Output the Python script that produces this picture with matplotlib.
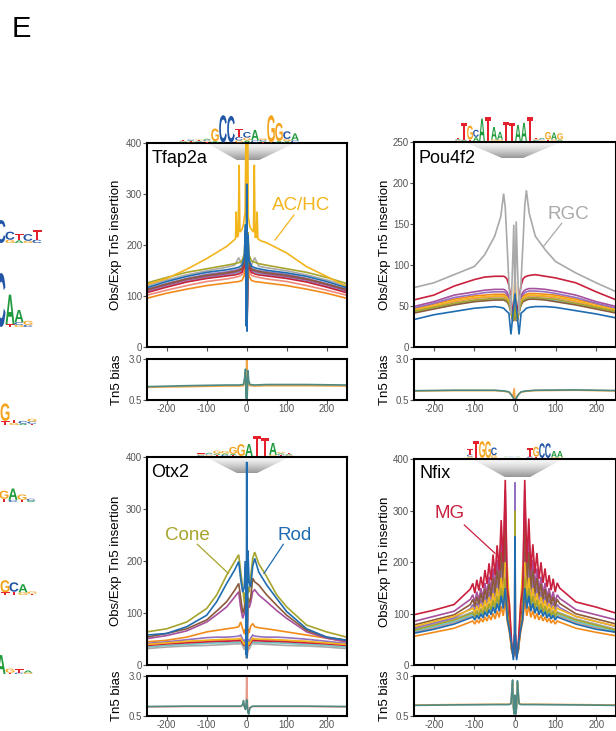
import numpy as np
import matplotlib
matplotlib.use('Agg')
import matplotlib.pyplot as plt
from matplotlib.textpath import TextPath
from matplotlib.path import Path
from matplotlib.patches import PathPatch
from matplotlib.font_manager import FontProperties

plt.rcParams['font.family'] = ['Liberation Sans', 'DejaVu Sans']
plt.rcParams['axes.unicode_minus'] = False

# ---------------- data ----------------
CELL_TYPES = ['Rod', 'Cone', 'BC', 'MG', 'AC/HC', 'RGC', 'Astrocyte',
              'Microglia', 'RPE', 'Endothelial', 'Pericyte']
COLORS = {'Rod': '#1f6cb0', 'Cone': '#a6a42c', 'BC': '#8b5a3b', 'MG': '#c9203d',
          'AC/HC': '#f2b51c', 'RGC': '#a9a9a9', 'Astrocyte': '#f28b1a',
          'Microglia': '#a6509e', 'RPE': '#9470c0', 'Endothelial': '#6cc6c6',
          'Pericyte': '#ee8a78'}

# Tfap2a
TF_X = [-250, -200, -150, -100, -50, -30, -20, -12, -6, -3, -1, 0, 1, 3, 6, 12, 20, 30, 50, 100, 150, 200, 250]
TF_ACHC_X = [-250, -200, -150, -100, -50, -35, -28, -26, -24, -21, -19, -17, -12, -8, -4, -2, 0,
             2, 4, 8, 12, 17, 19, 21, 24, 26, 28, 35, 50, 100, 150, 200, 250]
TFAP2A = {
    'Rod':         [116, 128, 138, 146, 151, 154, 156, 160, 175, 240, 40, 320, 30, 220, 170, 158, 155, 153, 150, 145, 138, 128, 116],
    'Cone':        [125, 136, 146, 153, 160, 163, 165, 168, 182, 230, 95, 205, 90, 225, 180, 168, 166, 163, 160, 153, 146, 136, 124],
    'BC':          [112, 123, 133, 140, 145, 148, 150, 153, 165, 200, 60, 170, 55, 195, 162, 152, 150, 148, 145, 140, 133, 123, 112],
    'MG':          [106, 117, 127, 134, 139, 141, 143, 146, 158, 190, 55, 150, 50, 185, 155, 146, 143, 141, 139, 134, 127, 117, 106],
    'AC/HC':       [122, 134, 152, 173, 197, 207, 212, 265, 215, 218, 357, 225, 230, 240, 265, 410, 90,
                    410, 255, 235, 230, 225, 357, 215, 215, 265, 212, 208, 204, 184, 157, 138, 118],
    'RGC':         [120, 131, 141, 149, 156, 160, 175, 160, 172, 200, 80, 150, 70, 190, 168, 160, 175, 158, 155, 149, 141, 131, 120],
    'Astrocyte':   [95, 105, 113, 120, 125, 127, 128, 130, 140, 170, 50, 140, 45, 165, 138, 130, 128, 127, 125, 120, 113, 105, 95],
    'Microglia':   [110, 121, 131, 138, 143, 146, 148, 151, 162, 195, 60, 160, 55, 190, 160, 150, 148, 146, 143, 138, 131, 121, 110],
    'RPE':         [113, 124, 134, 142, 147, 150, 152, 155, 168, 205, 65, 175, 60, 200, 165, 154, 151, 149, 147, 142, 134, 124, 113],
    'Endothelial': [108, 118, 128, 136, 141, 144, 146, 149, 160, 185, 60, 150, 55, 180, 158, 148, 146, 144, 141, 136, 128, 118, 108],
    'Pericyte':    [101, 111, 120, 128, 133, 136, 138, 141, 150, 180, 55, 145, 50, 175, 150, 140, 138, 136, 133, 128, 120, 111, 101],
}

# Pou4f2
PO_X = [-250, -200, -150, -100, -75, -50, -35, -28, -24, -20, -15, -10, -6, -3, 0, 3, 6, 10, 15, 20, 24, 28, 35, 50, 75, 100, 150, 200, 250]
POU4F2 = {
    'RGC':         [72, 78, 88, 98, 112, 135, 159, 187, 170, 130, 78, 40, 100, 149, 50, 153, 100, 40, 80, 130, 172, 191, 163, 135, 118, 104, 90, 78, 67],
    'MG':          [57, 63, 74, 82, 85, 86, 86, 86, 85, 83, 75, 60, 45, 40, 55, 40, 45, 60, 75, 83, 85, 86, 87, 88, 86, 84, 78, 67, 57],
    'Microglia':   [49, 55, 63, 67, 69, 70, 70, 70, 69, 67, 62, 50, 40, 35, 60, 35, 40, 50, 62, 67, 69, 70, 71, 71, 70, 68, 63, 55, 49],
    'RPE':         [47, 53, 60, 64, 66, 67, 67, 67, 66, 64, 60, 48, 38, 33, 58, 33, 38, 48, 60, 64, 66, 67, 68, 68, 67, 65, 60, 53, 47],
    'Astrocyte':   [46, 52, 58, 62, 63, 64, 64, 64, 63, 62, 58, 47, 38, 40, 90, 40, 38, 47, 58, 62, 63, 64, 65, 65, 64, 63, 58, 52, 46],
    'AC/HC':       [45, 50, 56, 60, 61, 62, 62, 62, 61, 60, 56, 46, 36, 38, 85, 38, 36, 46, 56, 60, 61, 62, 63, 63, 62, 61, 56, 50, 45],
    'Pericyte':    [44, 49, 55, 59, 60, 61, 61, 61, 60, 59, 55, 45, 35, 35, 58, 35, 35, 45, 55, 59, 60, 61, 62, 62, 61, 60, 55, 49, 44],
    'Cone':        [43, 48, 53, 57, 58, 59, 59, 59, 58, 57, 53, 44, 34, 33, 55, 33, 34, 44, 53, 57, 58, 59, 60, 60, 59, 58, 53, 48, 43],
    'Endothelial': [42, 47, 52, 56, 57, 58, 58, 58, 57, 56, 52, 43, 33, 33, 53, 33, 33, 43, 52, 56, 57, 58, 59, 59, 58, 56, 52, 47, 42],
    'BC':          [41, 46, 51, 55, 56, 57, 57, 57, 56, 55, 51, 42, 32, 32, 52, 32, 32, 42, 51, 55, 56, 57, 58, 58, 57, 55, 51, 46, 41],
    'Rod':         [33, 39, 43, 47, 48, 49, 48, 47, 45, 43, 41, 15, 35, 50, 65, 50, 35, 15, 41, 43, 45, 47, 48, 49, 49, 48, 44, 40, 35],
}

# Otx2
OT_X = [-250, -200, -150, -100, -75, -50, -30, -20, -15, -10, -6, -3, -1, 0, 1, 3, 6, 10, 15, 20, 30, 50, 75, 100, 150, 200, 250]
OTX2 = {
    'Cone':        [64, 70, 83, 109, 135, 173, 199, 212, 180, 150, 120, 140, 60, 200, 60, 150, 140, 170, 205, 217, 195, 170, 135, 112, 77, 64, 54],
    'Rod':         [58, 61, 74, 96, 122, 157, 183, 199, 165, 140, 150, 200, 20, 390, 15, 220, 160, 150, 190, 205, 179, 154, 128, 103, 70, 54, 48],
    'BC':          [54, 61, 70, 87, 104, 122, 144, 157, 130, 100, 110, 130, 40, 160, 40, 130, 120, 130, 167, 160, 154, 135, 115, 96, 67, 54, 48],
    'Microglia':   [51, 57, 66, 83, 97, 112, 131, 141, 110, 90, 100, 120, 40, 150, 40, 125, 110, 120, 141, 145, 135, 122, 105, 90, 64, 52, 45],
    'Astrocyte':   [45, 48, 54, 64, 67, 70, 72, 74, 83, 70, 60, 70, 30, 80, 30, 70, 62, 75, 80, 74, 72, 70, 67, 64, 58, 52, 45],
    'RPE':         [42, 45, 49, 53, 54, 54, 55, 56, 58, 50, 45, 50, 25, 60, 25, 50, 45, 52, 58, 56, 55, 54, 54, 53, 50, 46, 42],
    'AC/HC':       [40, 43, 46, 48, 49, 50, 50, 51, 52, 45, 40, 45, 20, 55, 20, 45, 40, 46, 52, 51, 50, 50, 49, 48, 46, 43, 40],
    'Pericyte':    [40, 42, 45, 47, 48, 48, 49, 49, 50, 45, 40, 45, 20, 50, 20, 45, 40, 45, 50, 49, 49, 48, 48, 47, 45, 42, 40],
    'MG':          [38, 41, 43, 45, 46, 46, 47, 47, 48, 42, 38, 42, 20, 50, 20, 42, 38, 43, 48, 47, 47, 46, 46, 45, 43, 41, 38],
    'Endothelial': [35, 38, 40, 42, 43, 43, 44, 44, 45, 40, 35, 40, 18, 45, 18, 40, 35, 40, 45, 44, 44, 43, 43, 42, 40, 38, 35],
    'RGC':         [32, 35, 37, 38, 39, 40, 41, 41, 42, 38, 30, 35, 13, 40, 13, 35, 30, 38, 42, 41, 41, 40, 39, 38, 37, 35, 32],
}

# Nfix
NF_X = [-250, -200, -150, -110,
        -104, -99, -94, -89, -84, -79, -74, -69, -64, -59, -54, -49, -44, -39, -34, -29, -24,
        -19, -14, -8, -4, -1, 0, 1, 4, 8, 14, 19,
        24, 29, 34, 39, 44, 49, 54, 59, 64, 69, 74, 79, 84, 89, 94, 99, 104,
        110, 150, 200, 250]
NFIX = {
    'MG':          [98, 107, 118, 148,
                    159, 140, 166, 145, 172, 150, 185, 158, 198, 165, 215, 175, 233, 185, 282, 200, 360,
                    150, 120, 40, 15, 60, 40, 60, 15, 40, 120, 150,
                    360, 200, 285, 185, 235, 178, 218, 168, 200, 160, 188, 152, 175, 146, 168, 142, 160,
                    150, 123, 113, 101],
    'Microglia':   [85, 95, 105, 128,
                    137, 122, 143, 126, 150, 131, 160, 138, 172, 145, 188, 153, 205, 162, 250, 175, 340,
                    130, 100, 35, 20, 50, 35, 50, 20, 35, 100, 130,
                    340, 175, 250, 162, 205, 153, 188, 145, 172, 138, 160, 131, 150, 126, 143, 122, 137,
                    130, 108, 98, 88],
    'BC':          [78, 88, 98, 118,
                    128, 114, 133, 118, 140, 122, 148, 128, 158, 134, 170, 140, 185, 148, 220, 158, 270,
                    115, 90, 30, 20, 45, 30, 45, 20, 30, 90, 115,
                    270, 158, 220, 148, 185, 140, 170, 134, 158, 128, 148, 122, 140, 118, 133, 114, 128,
                    120, 100, 90, 80],
    'RPE':         [72, 82, 92, 110,
                    118, 106, 122, 109, 128, 113, 135, 118, 143, 123, 153, 128, 165, 135, 195, 143, 240,
                    105, 80, 30, 20, 40, 355, 40, 20, 30, 80, 105,
                    240, 143, 195, 135, 165, 128, 153, 123, 143, 118, 135, 113, 128, 109, 122, 106, 118,
                    112, 95, 85, 75],
    'AC/HC':       [75, 85, 95, 108,
                    111, 102, 115, 105, 120, 108, 126, 112, 132, 116, 140, 120, 150, 125, 170, 132, 200,
                    190, 120, 30, 20, 40, 30, 40, 20, 30, 120, 190,
                    200, 132, 170, 125, 150, 120, 140, 116, 132, 112, 126, 108, 120, 105, 115, 102, 111,
                    108, 95, 85, 76],
    'Cone':        [68, 78, 88, 100,
                    102, 95, 105, 97, 109, 100, 114, 103, 119, 107, 126, 111, 134, 116, 150, 122, 170,
                    100, 80, 30, 20, 40, 300, 40, 20, 30, 80, 100,
                    170, 122, 150, 116, 134, 111, 126, 107, 119, 103, 114, 100, 109, 97, 105, 95, 102,
                    100, 88, 78, 68],
    'Endothelial': [66, 75, 85, 97,
                    99, 92, 102, 94, 106, 97, 110, 100, 115, 104, 121, 107, 128, 112, 143, 118, 160,
                    95, 75, 28, 18, 38, 28, 38, 18, 28, 75, 95,
                    160, 118, 143, 112, 128, 107, 121, 104, 115, 100, 110, 97, 106, 94, 102, 92, 99,
                    97, 85, 75, 66],
    'RGC':         [70, 80, 90, 102,
                    104, 96, 107, 99, 111, 102, 116, 105, 121, 109, 128, 113, 136, 118, 152, 124, 172,
                    110, 90, 30, 15, 45, 340, 45, 15, 30, 90, 110,
                    172, 124, 152, 118, 136, 113, 128, 109, 121, 105, 116, 102, 111, 99, 107, 96, 104,
                    102, 90, 80, 70],
    'Pericyte':    [64, 73, 83, 95,
                    97, 90, 100, 92, 104, 95, 108, 98, 112, 101, 118, 104, 125, 108, 138, 113, 152,
                    92, 72, 28, 18, 38, 28, 38, 18, 28, 72, 92,
                    152, 113, 138, 108, 125, 104, 118, 101, 112, 98, 108, 95, 104, 92, 100, 90, 97,
                    95, 83, 73, 64],
    'Rod':         [62, 70, 80, 92,
                    94, 88, 97, 90, 100, 92, 104, 95, 108, 98, 113, 101, 120, 105, 135, 110, 150,
                    90, 70, 39, 10, 60, 250, 60, 10, 39, 70, 90,
                    150, 110, 135, 105, 120, 101, 113, 98, 108, 95, 104, 92, 100, 90, 97, 88, 94,
                    92, 80, 70, 64],
    'Astrocyte':   [56, 64, 72, 84,
                    86, 80, 88, 82, 91, 84, 94, 86, 97, 88, 101, 90, 106, 93, 115, 96, 125,
                    85, 65, 30, 20, 40, 30, 40, 20, 30, 65, 85,
                    125, 96, 115, 93, 106, 90, 101, 88, 97, 86, 94, 84, 91, 82, 88, 80, 86,
                    84, 72, 64, 57],
}

# Tn5 bias tracks
BTF_X = [-250, -150, -50, -20, -8, -5, -3, -1, 0, 1, 3, 5, 8, 20, 50, 150, 250]
BTF_TEAL = [1.32, 1.38, 1.42, 1.42, 1.45, 1.9, 2.4, 0.6, 1.8, 0.5, 2.3, 1.7, 1.45, 1.42, 1.45, 1.45, 1.42]
BTF_ORANGE = [1.28, 1.32, 1.36, 1.36, 1.38, 1.6, 2.0, 0.8, 3.0, 0.8, 1.9, 1.5, 1.38, 1.36, 1.38, 1.38, 1.36]
BPO_X = [-250, -150, -50, -25, -15, -10, -5, -2, 0, 2, 5, 10, 15, 25, 50, 150, 250]
BPO_TEAL = [1.07, 1.1, 1.1, 1.05, 1.0, 0.85, 0.66, 0.5, 0.55, 0.5, 0.7, 0.88, 1.0, 1.05, 1.1, 1.12, 1.08]
BPO_ORANGE = [1.05, 1.08, 1.08, 1.03, 0.98, 0.85, 0.7, 1.2, 0.5, 0.6, 0.72, 0.88, 0.98, 1.03, 1.08, 1.1, 1.06]
BOT_X = [-250, -150, -50, -15, -10, -8, -6, -3, -1, 0, 1, 3, 5, 8, 15, 50, 150, 250]
BOT_TEAL = [1.08, 1.1, 1.1, 1.1, 1.2, 1.45, 1.1, 0.9, 1.3, 1.5, 1.2, 0.7, 0.6, 1.0, 1.1, 1.1, 1.1, 1.08]
BOT_ORANGE = [1.05, 1.08, 1.08, 1.08, 1.15, 1.3, 1.05, 0.9, 1.5, 3.0, 1.8, 0.9, 0.7, 1.0, 1.08, 1.08, 1.08, 1.05]
BNF_X = [-250, -150, -50, -15, -10, -8, -6, -4, -2, 0, 2, 4, 6, 8, 10, 15, 50, 150, 250]
BNF_TEAL = [1.15, 1.18, 1.2, 1.2, 1.25, 2.0, 2.75, 1.0, 0.6, 1.8, 0.6, 1.0, 2.7, 2.0, 1.25, 1.2, 1.2, 1.18, 1.15]
BNF_ORANGE = [1.17, 1.2, 1.22, 1.22, 1.27, 1.9, 2.6, 1.1, 0.7, 1.7, 0.7, 1.1, 2.55, 1.9, 1.27, 1.22, 1.22, 1.2, 1.17]

# motif logos (letters bottom->top, heights in bits)
LOGO_TF_COLS = ['ACGT', 'GTAC', 'CATG', 'TGCA', 'AG', 'C', 'C', 'GCT', 'AGC', 'CA', 'TACG', 'G', 'AG', 'AGC', 'CA']
LOGO_TF_HTS = [[.04, .04, .05, .05], [.05, .05, .05, .06], [.05, .05, .06, .06], [.06, .06, .07, .08],
               [.1, .9], [1.95], [1.9], [.15, .25, .55], [.15, .2, .4], [.15, .75],
               [.05, .05, .08, .12], [1.95], [.1, 1.3], [.1, .15, .55], [.15, .5]]
LOGO_PO_COLS = ['GCAT', 'AT', 'TG', 'AC', 'A', 'T', 'GA', 'GA', 'T', 'T', 'A', 'A', 'T',
                'CAGT', 'GTCA', 'TG', 'GA', 'AG']
LOGO_PO_HTS = [[.04, .05, .05, .06], [.1, 1.2], [.1, 1.0], [.3, .5], [1.6], [1.7], [.1, .9], [.1, .55],
               [1.35], [1.3], [1.15], [1.3], [1.7], [.04, .05, .06, .08], [.04, .05, .06, .07],
               [.1, .55], [.1, .5], [.1, .45]]
LOGO_OT_COLS = ['ACGT', 'GTCA', 'TAG', 'CAG', 'TAG', 'G', 'A', 'T', 'T', 'GA', 'TCAG', 'CGAT']
LOGO_OT_HTS = [[.04, .04, .05, .05], [.05, .05, .06, .07], [.08, .1, .2], [.08, .1, .18], [.05, .1, .5],
               [.85], [.85], [1.45], [1.3], [.08, .85], [.05, .06, .08, .1], [.04, .05, .06, .07]]
LOGO_NF_COLS = ['GCT', 'T', 'G', 'G', 'GC', 'ACGT', 'CGTA', 'GATC', 'TCGA', 'ACGT', 'CT', 'TG', 'C', 'C', 'GA', 'GA']
LOGO_NF_HTS = [[.1, .15, .4], [1.2], [1.2], [1.2], [.2, .55], [.02, .02, .02, .03], [.02, .02, .02, .03],
               [.02, .02, .02, .03], [.02, .02, .02, .03], [.02, .02, .02, .03], [.1, .6], [.1, .7],
               [1.05], [1.05], [.05, .45], [.05, .45]]
# partial logos of the neighbouring panel (cut at the left edge)
LOGO_D_COLS = [['C', 'GC', 'AT', 'GC', 'CT'], ['C', 'TA', 'GCA', 'CG'], ['TG', 'GT', 'AC', 'TCG'],
               ['TG', 'CA', 'TG', 'AC'], ['TG', 'TC', 'GA', 'TG'], ['A', 'TG', 'CT', 'GA']]
LOGO_D_HTS = [[[.85], [.12, .3], [.1, .25], [.08, .25], [.12, .35]],
              [[2.0], [.1, 1.1], [.08, .1, .45], [.08, .15]],
              [[.15, .65], [.08, .12], [.05, .1], [.05, .08, .1]],
              [[.12, .3], [.08, .42], [.08, .2], [.04, .08]],
              [[.1, .45], [.12, .35], [.1, .3], [.05, .08]],
              [[.7], [.05, .15], [.05, .12], [.05, .08]]]

# ---------------- figure ----------------
W, H = 616, 731
fig = plt.figure(figsize=(W / 100, H / 100), dpi=100)


def rect(x0, x1, y0, y1):
    return [x0 / W, 1 - y1 / H, (x1 - x0) / W, (y1 - y0) / H]


bg = fig.add_axes([0, 0, 1, 1], zorder=-5)
bg.set_xlim(0, W); bg.set_ylim(H, 0); bg.axis('off')
ov = fig.add_axes([0, 0, 1, 1], zorder=10)
ov.set_xlim(0, W); ov.set_ylim(H, 0); ov.axis('off'); ov.patch.set_alpha(0)

TICKC = '#555555'
LETTER_COLORS = {'A': '#1f9a3c', 'C': '#2255a6', 'G': '#f4a41c', 'T': '#e3202b'}
FP = FontProperties(family='Liberation Sans', weight='bold')
_cache = {}


def letter(ax, ch, xl, ybase, w, h):
    if ch not in _cache:
        tp = TextPath((0, 0), ch, size=1, prop=FP)
        bb = tp.get_extents()
        v = (tp.vertices - [bb.x0, bb.y0]) / [bb.width, bb.height]
        _cache[ch] = (v, tp.codes)
    v, codes = _cache[ch]
    nv = np.column_stack([xl + v[:, 0] * w, ybase - v[:, 1] * h])
    ax.add_patch(PathPatch(Path(nv, codes), fc=LETTER_COLORS[ch], ec='none', lw=0))


def logo(cols, hts, x0, step, base, scale, width):
    for i, (lets, hs) in enumerate(zip(cols, hts)):
        y = base
        xl = x0 + i * step - width / 2
        for ch, h in zip(lets, hs):
            hp = h * scale
            if hp > 0.4:
                letter(ov, ch, xl, y, width, hp)
            y -= hp


def funnel(top_y, top_x, bot_y, bot_x, n=40):
    c0 = np.array([0.97, 0.97, 0.97]); c1 = np.array([0.42, 0.42, 0.42])
    for i in range(n):
        t0, t1 = i / n, (i + 1) / n
        ya, yb = top_y + t0 * (bot_y - top_y), top_y + t1 * (bot_y - top_y)
        xla = top_x[0] + t0 * (bot_x[0] - top_x[0]); xra = top_x[1] + t0 * (bot_x[1] - top_x[1])
        xlb = top_x[0] + t1 * (bot_x[0] - top_x[0]); xrb = top_x[1] + t1 * (bot_x[1] - top_x[1])
        col = c0 + (c1 - c0) * (t0 ** 1.3)
        bg.fill([xla, xra, xrb, xlb], [ya, ya, yb, yb], color=col, lw=0)


def style(ax):
    for s in ax.spines.values():
        s.set_linewidth(1.5); s.set_color('black')
    ax.tick_params(direction='out', length=2.6, width=0.8, color=TICKC, labelsize=7,
                   labelcolor=TICKC, pad=0.6)
    ax.set_xlim(-250, 250)
    ax.set_xticks([-200, -100, 0, 100, 200])


def main_panel(r, xgrid, data, order, ylim, yticks, name, name_xy, xover=None, lab_x=-0.12):
    ax = fig.add_axes(rect(*r))
    ax.set_facecolor('none')
    for s in order:
        xs = xover.get(s, xgrid) if xover else xgrid
        ax.plot(xs, data[s], color=COLORS[s], lw=1.2, solid_joinstyle='miter')
    style(ax)
    ax.set_ylim(*ylim)
    ax.set_yticks(yticks)
    ax.tick_params(labelbottom=False)
    ax.set_ylabel('Obs/Exp Tn5 insertion', fontsize=9.5)
    ax.yaxis.set_label_coords(lab_x, 0.5)
    ax.text(name_xy[0], name_xy[1], name, transform=ax.transAxes, fontsize=13, va='baseline')
    return ax


def bias_panel(r, xs, teal, orange, lab_x=-0.12, ocolor='#f2a444'):
    ax = fig.add_axes(rect(*r))
    ax.set_facecolor('none')
    ax.plot(xs, orange, color=ocolor, lw=1.2)
    ax.plot(xs, teal, color='#4d8a84', lw=1.2)
    style(ax)
    ax.set_ylim(0.5, 3.0)
    ax.set_yticks([0.5, 3.0])
    ax.set_yticklabels(['0.5', '3.0'])
    ax.set_ylabel('Tn5 bias', fontsize=9.5)
    ax.yaxis.set_label_coords(lab_x, 0.5)
    return ax


base_order = ['Pericyte', 'Endothelial', 'RGC', 'Astrocyte', 'RPE', 'Microglia', 'MG', 'BC', 'AC/HC', 'Cone', 'Rod']

def order_with(top):
    o = [s for s in base_order if s not in (top, 'Rod')]
    return o + [top, 'Rod'] if top != 'Rod' else o + ['Rod']

LX_L = (122.5 - 146.7) / 200
LX_R = (391 - 413.5) / 203

# Tfap2a
funnel(143, (207, 295), 160, (237, 259))
main_panel((146.7, 346.7, 143, 346.7), TF_X, TFAP2A, order_with('AC/HC'), (0, 400),
           [0, 100, 200, 300, 400], 'Tfap2a', (0.025, 0.9), xover={'AC/HC': TF_ACHC_X}, lab_x=LX_L)
bias_panel((146.7, 346.7, 359.3, 400), BTF_X, BTF_TEAL, BTF_ORANGE, lab_x=LX_L)

# Pou4f2
funnel(142, (465, 561), 158, (502, 523))
main_panel((413.5, 616.5, 142, 346.7), PO_X, POU4F2, order_with('RGC'), (0, 250),
           [0, 50, 100, 150, 200, 250], 'Pou4f2', (0.027, 0.896), lab_x=LX_R)
bias_panel((413.5, 616.5, 359.3, 400), BPO_X, BPO_TEAL, BPO_ORANGE, lab_x=LX_R)

# Otx2
funnel(456.7, (205, 290), 473, (237, 257))
main_panel((146.7, 346.7, 456.7, 665.3), OT_X, OTX2, order_with('Cone'), (0, 400),
           [0, 100, 200, 300, 400], 'Otx2', (0.022, 0.904), lab_x=LX_L)
bias_panel((146.7, 346.7, 676, 715.7), BOT_X, BOT_TEAL, BOT_ORANGE, lab_x=LX_L, ocolor='#e79a8a')

# Nfix
funnel(459.3, (473, 562), 477, (505, 530))
main_panel((413.5, 616.5, 459.3, 665.3), NF_X, NFIX, order_with('MG'), (0, 400),
           [0, 100, 200, 300, 400], 'Nfix', (0.03, 0.908), lab_x=LX_R)
bias_panel((413.5, 616.5, 676, 715.7), BNF_X, BNF_TEAL, BNF_ORANGE, lab_x=LX_R)

# logos
logo(LOGO_TF_COLS, LOGO_TF_HTS, 183, 8, 142.5, 14, 7.6)
logo(LOGO_PO_COLS, LOGO_PO_HTS, 458, 6, 141, 14, 5.8)
logo(LOGO_OT_COLS, LOGO_OT_HTS, 201, 8, 456, 14, 7.6)
logo(LOGO_NF_COLS, LOGO_NF_HTS, 470, 6, 458, 14, 5.8)
for cols, hts, base, x0 in zip(LOGO_D_COLS, LOGO_D_HTS, [243, 327, 425, 502, 595, 674],
                               [1, 1, 5, 4, 5, 1]):
    logo(cols, hts, x0, 9, base, 27, 9)

# annotations
ANN = [('AC/HC', COLORS['AC/HC'], 301.5, 209.5, (294, 215), (275, 240)),
       ('RGC', '#a9a9a9', 568, 219, (561.7, 223.3), (543.3, 246.7)),
       ('Cone', COLORS['Cone'], 187, 540, (197.3, 544.3), (228.3, 573.3)),
       ('Rod', COLORS['Rod'], 295, 540, (283.3, 544.3), (264, 573.3)),
       ('MG', COLORS['MG'], 450, 518.3, (464.3, 525), (495, 553.3))]
for txt, c, tx, ty, p0, p1 in ANN:
    ov.text(tx, ty, txt, color=c, fontsize=13.5, ha='center', va='baseline')
    ov.plot([p0[0], p1[0]], [p0[1], p1[1]], color=c, lw=0.9)

ov.text(12, 37, 'E', fontsize=21, ha='left', va='baseline')

fig.savefig('out.png', dpi=100)
